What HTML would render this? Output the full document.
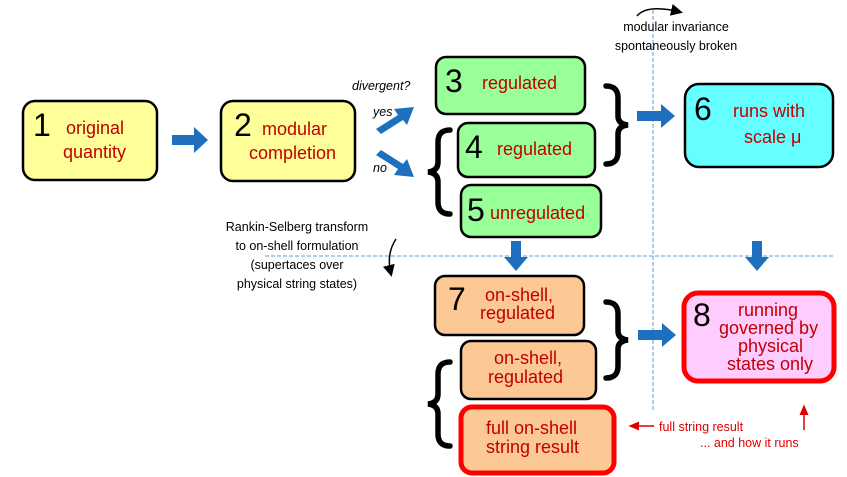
<!DOCTYPE html>
<html><head><meta charset="utf-8"><style>
html,body{margin:0;padding:0;background:#fff}
svg{display:block}
text{font-family:"Liberation Sans",sans-serif}
.n{font-size:32px;fill:#000}
.l{font-size:18px;fill:#c00000}
.s{font-size:12.5px;fill:#000}
.r{font-size:12.5px;fill:#e00000}
</style></head><body>
<svg width="847" height="477" viewBox="0 0 847 477" xmlns="http://www.w3.org/2000/svg">
<defs>
<marker id="ah" markerWidth="8" markerHeight="8" refX="6" refY="4" orient="auto"><path d="M0,0 L8,4 L0,8 z" fill="#000"/></marker>
<marker id="rh" markerWidth="8" markerHeight="8" refX="6" refY="4" orient="auto"><path d="M0,1 L7,4 L0,7 z" fill="#e00000"/></marker>
</defs>
<line x1="653" y1="10" x2="653" y2="410" stroke="#5b9bd5" stroke-width="1" stroke-dasharray="4,2"/>
<line x1="265" y1="256" x2="835" y2="256" stroke="#5b9bd5" stroke-width="1" stroke-dasharray="4,2"/>

<rect x="23" y="101" width="134" height="79" rx="12" fill="#ffff99" stroke="#000" stroke-width="2.5"/>
<text class="n" x="33" y="136">1</text>
<text class="l" x="66" y="134">original</text>
<text class="l" x="63" y="158">quantity</text>

<rect x="221" y="101" width="134" height="80" rx="12" fill="#ffff99" stroke="#000" stroke-width="2.5"/>
<text class="n" x="234" y="136">2</text>
<text class="l" x="262" y="135">modular</text>
<text class="l" x="249" y="159">completion</text>

<rect x="436" y="57" width="149" height="57" rx="10" fill="#99ff99" stroke="#000" stroke-width="2.5"/>
<text class="n" x="445" y="92">3</text>
<text class="l" x="482" y="89">regulated</text>

<rect x="458" y="123" width="137" height="54" rx="10" fill="#99ff99" stroke="#000" stroke-width="2.5"/>
<text class="n" x="465" y="158">4</text>
<text class="l" x="497" y="155">regulated</text>

<rect x="461" y="185" width="140" height="52" rx="10" fill="#99ff99" stroke="#000" stroke-width="2.5"/>
<text class="n" x="467" y="221">5</text>
<text class="l" x="490" y="219">unregulated</text>

<rect x="685" y="84" width="148" height="83" rx="14" fill="#66ffff" stroke="#000" stroke-width="2.5"/>
<text class="n" x="694" y="120">6</text>
<text class="l" x="733" y="117">runs with</text>
<text class="l" x="744" y="143">scale μ</text>

<rect x="435" y="276" width="149" height="59" rx="10" fill="#fcc894" stroke="#000" stroke-width="2.5"/>
<text class="n" x="448" y="310">7</text>
<text class="l" x="485" y="301">on-shell,</text>
<text class="l" x="480" y="319">regulated</text>

<rect x="461" y="341" width="135" height="58" rx="10" fill="#fcc894" stroke="#000" stroke-width="2.5"/>
<text class="l" x="494" y="364">on-shell,</text>
<text class="l" x="488" y="383">regulated</text>

<rect x="461" y="407" width="153" height="66" rx="11" fill="#fcc894" stroke="#ff0000" stroke-width="5"/>
<text class="l" x="486" y="434">full on-shell</text>
<text class="l" x="486" y="453">string result</text>

<rect x="684" y="293" width="150" height="88" rx="14" fill="#ffccff" stroke="#ff0000" stroke-width="5"/>
<text class="n" x="693" y="326">8</text>
<text class="l" x="738" y="316" font-size="17">running</text>
<text class="l" x="719" y="334" font-size="17">governed by</text>
<text class="l" x="738" y="352" font-size="17">physical</text>
<text class="l" x="727" y="370" font-size="17">states only</text>

<g fill="#1f6fbf">
<path d="M172,135 h22 v-8 l14,13 l-14,13 v-8 h-22 z"/>
<path d="M637,111 h24 v-7 l14,12 l-14,12 v-7 h-24 z"/>
<path d="M638,330 h24 v-7 l14,12 l-14,12 v-7 h-24 z"/>
<path d="M511,241 h10 v16 h7 l-12,14 l-12,-14 h7 z"/>
<path d="M752,241 h10 v16 h7 l-12,14 l-12,-14 h7 z"/>
<path d="M376,129 l22,-14 l-4,-6 l20,-2 l-7,18 l-4,-5 l-22,14 z"/>
<path d="M376,155 l22,14 l-4,6 l20,2 l-7,-18 l-4,5 l-22,-14 z"/>
</g>

<g fill="none" stroke="#000" stroke-width="5.5" stroke-linecap="round">
<path d="M606,86 q12,0 12,12 v18 q0,8 10,9 q-10,1 -10,9 v18 q0,12 -12,12"/>
<path d="M606,302 q12,0 12,12 v17 q0,8 10,9 q-10,1 -10,9 v17 q0,12 -12,12"/>
<path d="M450,130 q-12,0 -12,12 v20 q0,9 -10,10 q10,1 10,10 v20 q0,12 12,12"/>
<path d="M450,362 q-12,0 -12,12 v20 q0,9 -10,10 q10,1 10,10 v20 q0,12 12,12"/>
</g>

<text class="s" x="352" y="90" font-style="italic">divergent?</text>
<text class="s" x="373" y="116" font-style="italic">yes</text>
<text class="s" x="373" y="172" font-style="italic">no</text>
<text class="s" x="297" y="231" text-anchor="middle">Rankin-Selberg transform</text>
<text class="s" x="297" y="250" text-anchor="middle">to on-shell formulation</text>
<text class="s" x="297" y="269" text-anchor="middle">(supertaces over</text>
<text class="s" x="297" y="288" text-anchor="middle">physical string states)</text>
<text class="s" x="676" y="31" text-anchor="middle">modular invariance</text>
<text class="s" x="676" y="50" text-anchor="middle">spontaneously broken</text>
<path d="M396,239 q-10,15 -5,35" fill="none" stroke="#000" stroke-width="1.5" marker-end="url(#ah)"/>
<path d="M637,16 q10,-12 43,-4" fill="none" stroke="#000" stroke-width="1.5" marker-end="url(#ah)"/>

<text class="r" x="659" y="431">full string result</text>
<text class="r" x="700" y="447">... and how it runs</text>
<line x1="654" y1="426" x2="630" y2="426" stroke="#e00000" stroke-width="1.5" marker-end="url(#rh)"/>
<line x1="804" y1="430" x2="804" y2="406" stroke="#e00000" stroke-width="1.5" marker-end="url(#rh)"/>
</svg>
</body></html>
